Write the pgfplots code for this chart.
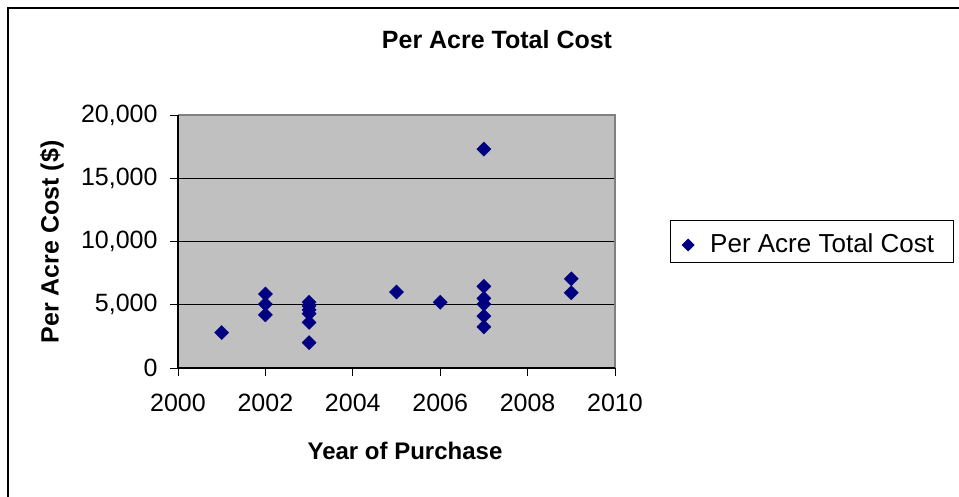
\documentclass[border=0pt]{standalone}
\usepackage{pgfplots}
\pgfplotsset{compat=1.18}
\usepackage{fontspec}
\setmainfont{Liberation Sans}
\definecolor{plotgray}{HTML}{C0C0C0}
\definecolor{navy}{HTML}{000080}
\definecolor{bordergray}{HTML}{808080}
\begin{document}
\begin{tikzpicture}
\useasboundingbox (0pt,0pt) rectangle (959pt,-497pt);
\fill[white] (0pt,0pt) rectangle (959pt,-497pt);
\draw[line width=2.2pt] (8pt,-497pt) -- (8pt,-8pt) -- (959pt,-8pt);
\begin{axis}[
  at={(178pt,-368pt)}, anchor=south west,
  scale only axis, width=437pt, height=253pt,
  xmin=2000, xmax=2010, ymin=0, ymax=20000,
  xtick={2000,2002,2004,2006,2008,2010},
  ytick={0,5000,10000,15000,20000},
  axis background/.style={fill=plotgray},
  axis line style={draw=none},
  ymajorgrids, major grid style={black, line width=0.9pt},
  tick align=outside, major tick length=8pt,
  xtick pos=bottom, ytick pos=left,
  tick style={black, line width=0.8pt},
  /pgf/number format/assume math mode=true,
  xticklabel style={/pgf/number format/1000 sep={}, font=\fontsize{25}{29}\selectfont, yshift=-15pt},
  yticklabel style={/pgf/number format/1000 sep={,}, font=\fontsize{25}{29}\selectfont, xshift=-9pt},
  scaled y ticks=false,
  clip=false,
]
\addplot[only marks, mark=square*, mark size=5pt, mark options={rotate=45, fill=navy, draw=navy}] table {
x y
2001 2800
2002 5850
2002 5050
2002 4200
2003 5200
2003 4900
2003 4600
2003 4300
2003 3600
2003 2000
2005 6000
2006 5200
2007 17300
2007 6450
2007 5500
2007 5050
2007 4100
2007 3250
2009 7050
2009 5950
};
\draw[bordergray, line width=1.2pt] (rel axis cs:0,1) -- (rel axis cs:1,1) -- (rel axis cs:1,0);
\draw[black, line width=1.2pt] (rel axis cs:0,1) -- (rel axis cs:0,0) -- (rel axis cs:1,0);
\end{axis}
\node[anchor=base, font=\bfseries\fontsize{25}{29}\selectfont] at (497pt,-49pt) {Per Acre Total Cost};
\node[anchor=base, font=\bfseries\fontsize{24}{28}\selectfont] at (405pt,-459pt) {Year of Purchase};
\node[rotate=90, font=\bfseries\fontsize{25}{29}\selectfont] at (52pt,-242pt) {Per Acre Cost (\$)};
\draw[line width=1pt] (670pt,-221pt) rectangle (953pt,-263pt);
\fill[navy] (688pt,-238.5pt) -- (694.5pt,-245pt) -- (688pt,-251.5pt) -- (681.5pt,-245pt) -- cycle;
\node[anchor=base west, font=\fontsize{26}{30}\selectfont, inner sep=0pt] at (710pt,-253pt) {Per Acre Total Cost};
\end{tikzpicture}
\end{document}
